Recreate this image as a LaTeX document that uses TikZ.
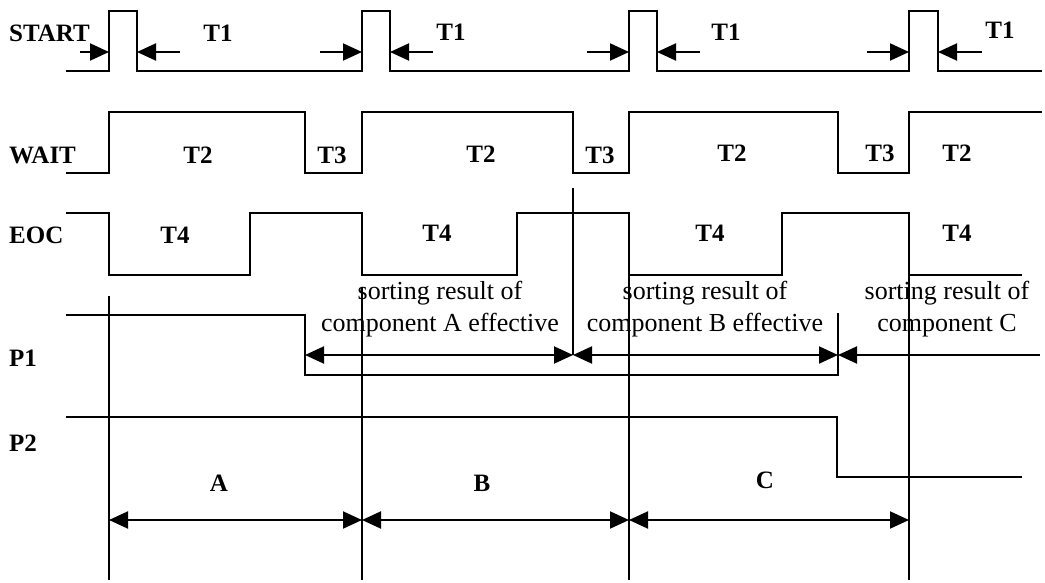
\documentclass[tikz,border=0pt]{standalone}
\usepackage{fontspec}
\setmainfont{Liberation Serif}
\usetikzlibrary{arrows.meta}
\begin{document}
\begin{tikzpicture}[x=1pt,y=-1pt,
  sig/.style={line width=2.2pt},
  guide/.style={line width=2pt},
  tip/.tip={Triangle[length=19pt,width=17pt]},
  arr/.style={line width=2pt,-tip},
  darr/.style={line width=2pt,tip-tip},
  lab/.style={font=\fontsize{25}{30}\selectfont\bfseries, inner sep=0pt},
  txt/.style={font=\fontsize{26}{32}\selectfont, align=center, inner sep=0pt}]
\useasboundingbox (0,0) rectangle (1045,583);

% signals
\draw[sig] (66,71) -| (109,11) -| (137,71) -| (362,11) -| (390,71) -| (629,11) -| (657,71) -| (909,11) -| (938,71) -- (1042,71);
\draw[sig] (66,173) -| (109,112) -| (305,173) -| (362,112) -| (573,173) -| (629,112) -| (838,173) -| (909,112) -- (1042,112);
\draw[sig] (66,213) -| (109,275) -| (250,213) -| (362,275) -| (517,213) -| (629,275) -| (782,213) -| (909,275) -- (1022,275);
\draw[sig] (66,315) -| (305,375) -| (838,313);
\draw[sig] (66,417) -| (837,477) -- (1022,477);

% guide lines
\draw[guide] (109,296) -- (109,580);
\draw[guide] (362,287) -- (362,580);
\draw[guide] (629,275) -- (629,580);
\draw[guide] (909,275) -- (909,580);
\draw[guide] (573,188) -- (573,355);

% coordinates
\coordinate (s1a) at (80,52);  \coordinate (s1b) at (109,52);
\coordinate (s1c) at (180,52); \coordinate (s1d) at (137,52);
\coordinate (s2a) at (320,52); \coordinate (s2b) at (362,52);
\coordinate (s2c) at (433,52); \coordinate (s2d) at (390,52);
\coordinate (s3a) at (587,52); \coordinate (s3b) at (629,52);
\coordinate (s3c) at (700,52); \coordinate (s3d) at (657,52);
\coordinate (s4a) at (867,52); \coordinate (s4b) at (909,52);
\coordinate (s4c) at (982,52); \coordinate (s4d) at (938,52);
\coordinate (p1a) at (305,355); \coordinate (p1b) at (573,355);
\coordinate (p1c) at (838,355); \coordinate (p1d) at (1040,355);
\coordinate (ba) at (109,520); \coordinate (bb) at (362,520);
\coordinate (bc) at (629,520); \coordinate (bd) at (909,520);

% T1 arrows
\draw[arr] (s1a) -- (s1b); \draw[arr] (s1c) -- (s1d);
\draw[arr] (s2a) -- (s2b); \draw[arr] (s2c) -- (s2d);
\draw[arr] (s3a) -- (s3b); \draw[arr] (s3c) -- (s3d);
\draw[arr] (s4a) -- (s4b); \draw[arr] (s4c) -- (s4d);

% P1 arrows
\draw[darr] (p1a) -- (p1b);
\draw[darr] (p1b) -- (p1c);
\draw[arr] (p1d) -- (p1c);

% bottom arrows
\draw[darr] (ba) -- (bb);
\draw[darr] (bb) -- (bc);
\draw[darr] (bc) -- (bd);

% labels
\node[lab,anchor=west] (lstart) at (9,33) {START};
\node[lab,anchor=west] (lwait) at (9,155) {WAIT};
\node[lab,anchor=west] (leoc) at (9,235) {EOC};
\node[lab,anchor=west] (lp1) at (9,358) {P1};
\node[lab,anchor=west] (lp2) at (9,443) {P2};

\node[lab] (t1a) at (218,33) {T1};
\node[lab] (t1b) at (451,32) {T1};
\node[lab] (t1c) at (726,32) {T1};
\node[lab] (t1d) at (1000,30) {T1};

\node[lab] (t2a) at (198,155) {T2};
\node[lab] (t3a) at (332,155) {T3};
\node[lab] (t2b) at (481,154) {T2};
\node[lab] (t3b) at (600,155) {T3};
\node[lab] (t2c) at (732,153) {T2};
\node[lab] (t3c) at (880,153) {T3};
\node[lab] (t2d) at (957,153) {T2};

\node[lab] (t4a) at (175,235) {T4};
\node[lab] (t4b) at (437,233) {T4};
\node[lab] (t4c) at (710,233) {T4};
\node[lab] (t4d) at (957,233) {T4};

\node[txt] (ra) at (440,309) {sorting result of\\component A effective};
\node[txt] (rb) at (705,309) {sorting result of\\component B effective};
\node[txt] (rc) at (947,309) {sorting result of\\component C};

\node[lab] (la) at (219,483) {A};
\node[lab] (lb) at (482,483) {B};
\node[lab] (lc) at (765,480) {C};
\end{tikzpicture}
\end{document}
